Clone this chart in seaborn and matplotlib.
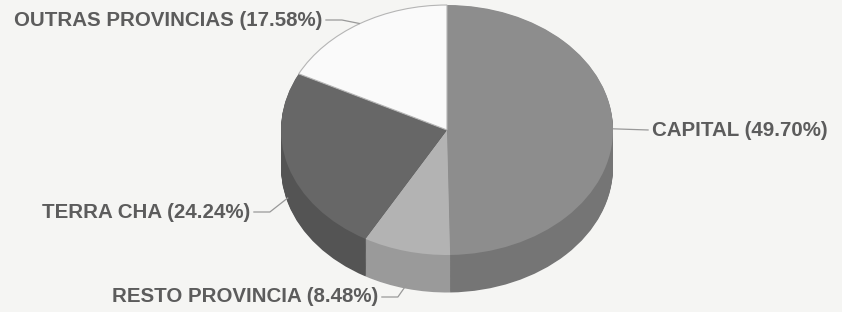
import numpy as np
import matplotlib
matplotlib.use("Agg")
import matplotlib.pyplot as plt
import seaborn as sns

labels = ["CAPITAL", "RESTO PROVINCIA", "TERRA CHA", "OUTRAS PROVINCIAS"]
shares = [49.70, 8.48, 24.24, 17.58]
top_colors = ["#8d8d8d", "#b3b3b3", "#676767", "#fafafa"]
side_colors = ["#757575", "#9a9a9a", "#545454", "#d8d8d8"]

sns.set_theme(style="white")
plt.rcParams["font.family"] = ["Liberation Sans", "DejaVu Sans"]

bg = "#f5f5f3"
fig = plt.figure(figsize=(8.42, 3.12), dpi=100, facecolor=bg)
ax = fig.add_axes([0, 0, 1, 1])
ax.set_facecolor(bg)

depth = 0.30

# side of the cylinder: stack of darker pies shifted downwards
for d in np.linspace(depth, 0.005, 40):
    ax.pie(shares, colors=side_colors, startangle=90, counterclock=False,
           center=(0, -d), wedgeprops=dict(linewidth=0))

# top face
wedges, _ = ax.pie(shares, colors=top_colors, startangle=90, counterclock=False,
                   wedgeprops=dict(linewidth=0))
wedges[3].set_edgecolor("#b5b5b5")
wedges[3].set_linewidth(0.8)

# text anchors for the labels, and how far down the leader hits the rim
text_pos = {
    "CAPITAL": (1.235, 0.0, "left"),
    "RESTO PROVINCIA": (-0.416, -1.336, "right"),
    "TERRA CHA": (-1.187, -0.656, "right"),
    "OUTRAS PROVINCIAS": (-0.753, 0.88, "right"),
}
rim_drop = {"CAPITAL": 0.0, "RESTO PROVINCIA": 0.27, "TERRA CHA": 0.25, "OUTRAS PROVINCIAS": 0.0}

for w, lab, val in zip(wedges, labels, shares):
    mid = np.deg2rad((w.theta1 + w.theta2) / 2)
    ex, ey = np.cos(mid), np.sin(mid) - rim_drop[lab]
    tx, ty, ha = text_pos[lab]
    if ha == "left":
        xs = [ex, tx - 0.02]
        ys = [ey, ty]
    else:
        xs = [tx + 0.02, tx + 0.12, ex]
        ys = [ty, ty, ey]
    ax.plot(xs, ys, color="#999999", lw=0.9, solid_capstyle="butt")
    ax.text(tx, ty, f"{lab} ({val:.2f}%)", ha=ha, va="center",
            fontsize=14.8, fontweight="bold", color="#5c5c5c")

ax.set_aspect("auto")
ax.set_xlim(-447 / 166, (842 - 447) / 166)
ax.set_ylim(-(312 - 130) / 125, 130 / 125)
ax.axis("off")

fig.savefig("out.png", dpi=100, facecolor=bg)
